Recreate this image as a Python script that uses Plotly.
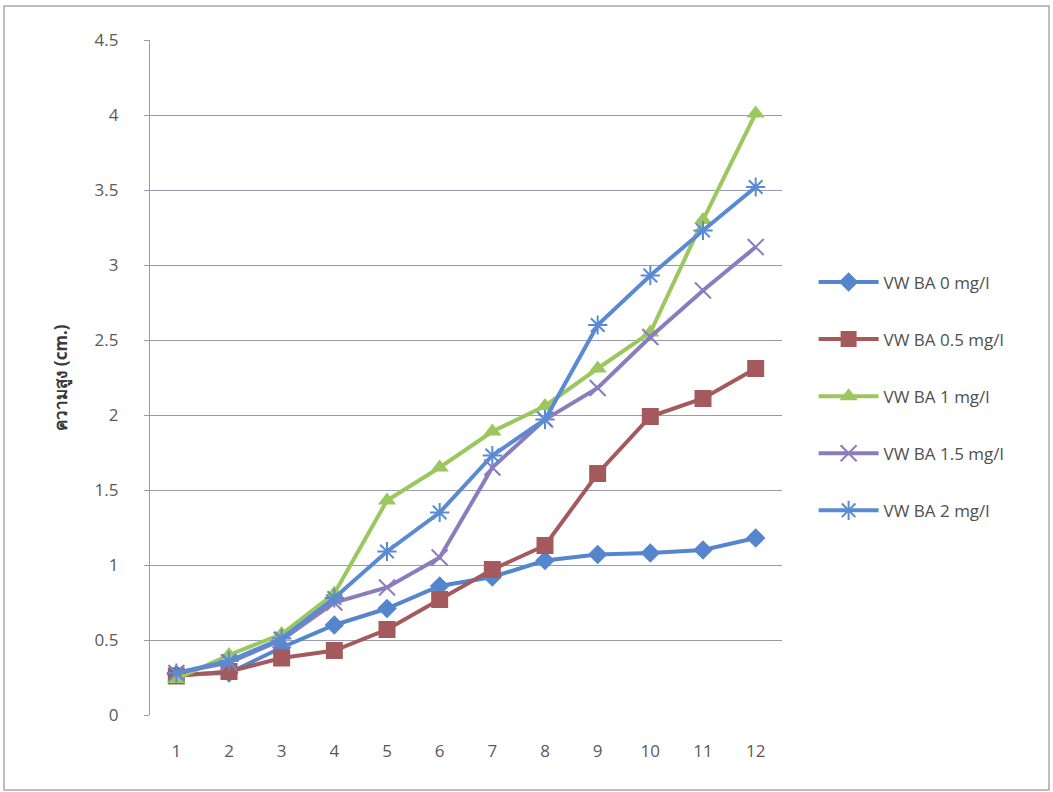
import plotly.graph_objects as go

# Weeks of culture
weeks = [1, 2, 3, 4, 5, 6, 7, 8, 9, 10, 11, 12]

# Plant height (cm) for each BA concentration in VW medium
ba_0 = [0.27, 0.28, 0.45, 0.60, 0.71, 0.86, 0.92, 1.03, 1.07, 1.08, 1.10, 1.18]
ba_05 = [0.26, 0.29, 0.38, 0.43, 0.57, 0.77, 0.97, 1.13, 1.61, 1.99, 2.11, 2.31]
ba_1 = [0.24, 0.40, 0.54, 0.81, 1.43, 1.65, 1.89, 2.06, 2.31, 2.55, 3.30, 4.01]
ba_15 = [0.28, 0.35, 0.50, 0.75, 0.85, 1.05, 1.65, 1.97, 2.18, 2.52, 2.83, 3.12]
ba_2 = [0.28, 0.36, 0.51, 0.78, 1.09, 1.35, 1.73, 1.97, 2.60, 2.93, 3.23, 3.52]

series_names = ["VW BA 0 mg/l", "VW BA 0.5 mg/l", "VW BA 1 mg/l",
                "VW BA 1.5 mg/l", "VW BA 2 mg/l"]
y_ticks = [0, 0.5, 1, 1.5, 2, 2.5, 3, 3.5, 4, 4.5]

styles = [
    dict(color="#5585CC", symbol="diamond", size=15),
    dict(color="#A45A5C", symbol="square", size=17),
    dict(color="#9CC75E", symbol="triangle-up", size=16),
    dict(color="#8A7DBE", symbol="x-thin", size=16),
    dict(color="#5A8AD2", symbol="asterisk", size=16),
]

fig = go.Figure()
for i, (name, vals, st) in enumerate(zip(series_names, [ba_0, ba_05, ba_1, ba_15, ba_2], styles)):
    thin = st["symbol"] in ("x-thin", "asterisk")
    fig.add_trace(go.Scatter(
        x=weeks, y=vals, name=name, mode="lines+markers",
        legendgroup=f"g{i}",
        line=dict(color=st["color"], width=4),
        marker=dict(symbol=st["symbol"], size=st["size"], color=st["color"],
                    line=dict(color=st["color"], width=2 if thin else 0)),
    ))

# Outer chart frame
fig.add_shape(type="rect", xref="paper", yref="paper",
              x0=(4 - 150) / 632, x1=(1049 - 150) / 632,
              y0=(715 - 790) / 675, y1=(715 - 6) / 675,
              line=dict(color="#A8A8B0", width=1.5), fillcolor="rgba(0,0,0,0)",
              layer="below")

fig.update_layout(
    width=1053, height=792,
    margin=dict(l=150, r=271, t=40, b=77),
    paper_bgcolor="white", plot_bgcolor="white",
    font=dict(family="Open Sans, DejaVu Sans, sans-serif", color="#555555"),
    xaxis=dict(
        type="linear", range=[0.5, 12.5], tickvals=weeks,
        ticktext=[str(w) for w in weeks],
        showgrid=False, zeroline=False, showline=False,
        ticks="", ticklabelstandoff=24,
        tickfont=dict(size=17, color="#5A5A5A"),
    ),
    yaxis=dict(
        range=[0, 4.5], tickvals=y_ticks,
        ticktext=["0", "0.5", "1", "1.5", "2", "2.5", "3", "3.5", "4", "4.5"],
        showgrid=True, gridcolor="#9A9AAE", gridwidth=1.2,
        zeroline=False, showline=True, linecolor="#9A9AAE", linewidth=1.2,
        ticks="outside", ticklen=5, tickcolor="#9A9AAE",
        ticklabelstandoff=22,
        tickfont=dict(size=17, color="#5A5A5A"),
        title=dict(text="ความสูง (cm.)", standoff=22,
                   font=dict(size=17, color="#3A3A3A", weight="bold",
                             family="Noto Sans, DejaVu Sans, sans-serif")),
    ),
    legend=dict(
        x=1.05, y=0.472, xanchor="left", yanchor="middle",
        font=dict(size=17, color="#505050"),
        tracegroupgap=32, itemwidth=60,
        bgcolor="rgba(0,0,0,0)",
    ),
)

fig.write_html("out.html")
